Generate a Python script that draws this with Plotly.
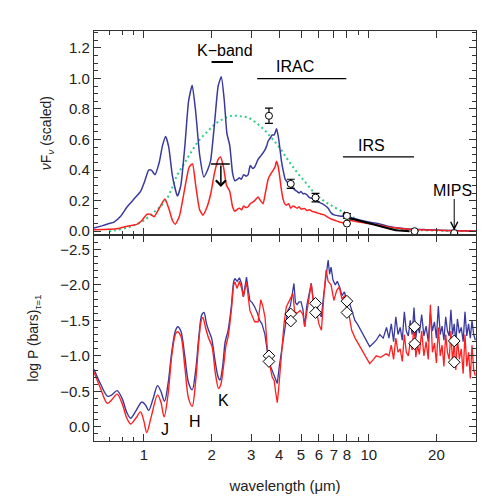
import numpy as np
import plotly.graph_objects as go
from plotly.subplots import make_subplots

# ---- top panel: nu F_nu (scaled) ----
wl_blue_top = [0.60, 0.65, 0.70, 0.736, 0.79, 0.843, 0.903, 0.967, 1.01, 1.05, 1.08, 1.12, 1.17, 1.21,
               1.25, 1.29, 1.34, 1.41, 1.46, 1.52, 1.58, 1.64, 1.70, 1.77, 1.85, 1.92, 1.98, 2.06,
               2.14, 2.21, 2.28, 2.34, 2.41, 2.48, 2.54, 2.61, 2.66, 2.71, 2.78, 2.85, 2.91, 2.97,
               3.05, 3.11, 3.22, 3.30, 3.38, 3.45, 3.52, 3.57, 3.65, 3.72, 3.80, 3.89, 3.96, 4.02,
               4.09, 4.16, 4.25, 4.35, 4.45, 4.55, 4.69, 4.80, 4.90, 5.0, 5.1, 5.19, 5.3, 5.45,
               5.6, 5.76, 5.9, 6.0, 6.2, 6.37, 6.6, 6.8, 7.06, 7.4, 7.68, 8.0, 8.5, 9.0, 10.0,
               11.0, 12.0, 13.0, 15.0, 18.0, 22.0, 26.0, 30.0]
fnu_blue = [0.02, 0.035, 0.05, 0.06, 0.10, 0.16, 0.21, 0.26, 0.33, 0.40, 0.40, 0.37, 0.45, 0.56,
            0.62, 0.55, 0.36, 0.23, 0.30, 0.55, 0.85, 0.955, 0.78, 0.50, 0.355, 0.40, 0.46, 0.70,
            0.95, 1.01, 0.85, 0.64, 0.56, 0.38, 0.33, 0.34, 0.35, 0.34, 0.37, 0.36, 0.37, 0.43,
            0.41, 0.42, 0.47, 0.49, 0.51, 0.53, 0.56, 0.59, 0.61, 0.63, 0.63, 0.67, 0.62, 0.55,
            0.46, 0.40, 0.34, 0.32, 0.30, 0.29, 0.27, 0.26, 0.25, 0.26, 0.245, 0.246, 0.24, 0.22,
            0.215, 0.20, 0.20, 0.19, 0.18, 0.17, 0.15, 0.12, 0.105, 0.10, 0.098, 0.10, 0.085, 0.075, 0.06,
            0.05, 0.035, 0.025, 0.015, 0.01, 0.005, 0.003, 0.002]

wl_red_top = [0.60, 0.70, 0.78, 0.843, 0.93, 0.98, 1.03, 1.07, 1.11, 1.17, 1.24, 1.29, 1.34, 1.38,
              1.44, 1.52, 1.59, 1.645, 1.70, 1.77, 1.83, 1.90, 1.98, 2.06, 2.14, 2.19, 2.26, 2.33,
              2.41, 2.48, 2.54, 2.61, 2.66, 2.72, 2.78, 2.85, 2.91, 2.97, 3.05, 3.11, 3.22, 3.30,
              3.39, 3.47, 3.57, 3.65, 3.76, 3.83, 3.89, 3.96, 4.02, 4.09, 4.16, 4.23, 4.30, 4.40,
              4.50, 4.6, 4.69, 4.8, 4.9, 5.0, 5.19, 5.3, 5.45, 5.6, 5.76, 5.9, 6.05, 6.2, 6.37,
              6.6, 6.8, 7.06, 7.4, 7.68, 8.0, 8.3, 9.0, 10.0, 11.0, 12.0, 13.0, 15.0, 18.0, 22.0,
              26.0, 30.0]
fnu_red = [0.01, 0.012, 0.02, 0.033, 0.045, 0.07, 0.11, 0.11, 0.095, 0.15, 0.21, 0.15, 0.07, 0.046,
           0.10, 0.28, 0.42, 0.44, 0.30, 0.14, 0.105, 0.15, 0.24, 0.38, 0.47, 0.485, 0.42, 0.30,
           0.26, 0.16, 0.13, 0.145, 0.15, 0.14, 0.165, 0.155, 0.16, 0.18, 0.19, 0.20, 0.224, 0.20,
           0.18, 0.25, 0.34, 0.37, 0.40, 0.42, 0.457, 0.42, 0.355, 0.27, 0.21, 0.18, 0.17, 0.18,
           0.15, 0.165, 0.16, 0.15, 0.16, 0.145, 0.148, 0.135, 0.14, 0.13, 0.126, 0.12, 0.115, 0.11, 0.105,
           0.09, 0.08, 0.072, 0.06, 0.055, 0.065, 0.07, 0.06, 0.05, 0.04, 0.03, 0.022, 0.013, 0.008, 0.004,
           0.002, 0.001]

wl_bb = [0.70, 0.74, 0.85, 0.93, 1.0, 1.12, 1.25, 1.33, 1.41, 1.51, 1.61, 1.75, 1.91, 2.07, 2.27,
         2.45, 2.6, 2.75, 2.91, 3.15, 3.45, 3.75, 4.09, 4.45, 4.85, 5.3, 5.76, 6.3, 6.8, 7.7,
         8.5, 9.4, 11.0, 13.2, 16.0, 20.0, 25.0, 30.0]
fnu_bb = [0.0, 0.005, 0.025, 0.045, 0.07, 0.13, 0.20, 0.28, 0.37, 0.44, 0.51, 0.59, 0.65, 0.70, 0.737,
          0.755, 0.755, 0.75, 0.743, 0.71, 0.66, 0.60, 0.53, 0.45, 0.377, 0.31, 0.246, 0.20, 0.17, 0.125,
          0.09, 0.065, 0.04, 0.015, 0.008, 0.004, 0.002, 0.001]

wl_irs = [7.7, 7.8, 7.95, 8.2, 8.6, 9.0, 9.4, 10.1, 10.8, 11.6, 12.4, 13.2, 14.2, 15.2]
fnu_irs = [0.10, 0.12, 0.11, 0.083, 0.078, 0.07, 0.06, 0.05, 0.04, 0.028, 0.016, 0.007, 0.003, 0.0]

wl_phot = [3.6, 4.5, 5.8, 8.0, 8.0, 16.0, 24.0]
fnu_phot = [0.755, 0.31, 0.22, 0.10, 0.05, 0.0, -0.012]
err_phot = [0.05, 0.03, 0.028, 0.015, 0.0, 0.0, 0.0]

# ---- bottom panel: log P (bars) at tau=1 ----
wl_noise = [12.3, 12.6, 12.9, 13.2, 13.5, 13.8, 14.1, 14.4, 14.7, 15.0, 15.3, 15.6, 15.9, 16.2, 16.5,
            16.8, 17.2, 17.6, 18.0, 18.4, 18.8, 19.2, 19.6, 20.0, 20.4, 20.8, 21.2, 21.6, 22.0, 22.4,
            22.8, 23.2, 23.6, 24.0, 24.4, 24.8, 25.3, 25.8, 26.3, 26.8, 27.3, 27.8, 28.3, 28.8, 29.3, 29.8]

wl_blue_bot = [0.60, 0.64, 0.69, 0.72, 0.76, 0.80, 0.84, 0.873, 0.92, 0.98, 1.02, 1.05, 1.10, 1.15,
               1.19, 1.235, 1.28, 1.33, 1.38, 1.415, 1.46, 1.52, 1.58, 1.64, 1.70, 1.76, 1.81, 1.85,
               1.90, 1.94, 2.00, 2.08, 2.14, 2.18, 2.24, 2.30, 2.37, 2.45, 2.51, 2.54, 2.60, 2.66,
               2.72, 2.77, 2.86, 2.96, 3.03, 3.11, 3.20, 3.27, 3.35, 3.45, 3.57, 3.66, 3.76, 3.85,
               3.92, 4.0, 4.08, 4.16, 4.27, 4.37, 4.48, 4.56, 4.65, 4.72, 4.80, 4.90, 5.0, 5.1,
               5.19, 5.30, 5.42, 5.55, 5.7, 5.85, 6.0, 6.16, 6.3, 6.45, 6.6, 6.7, 6.8, 6.93, 7.1,
               7.25, 7.42, 7.6, 7.8, 7.95, 8.2, 8.45, 8.68, 8.9, 9.15, 9.4, 9.7, 10.1, 10.5, 10.8,
               11.2, 11.6, 12.0] + wl_noise
logp_blue = [-0.81, -0.61, -0.43, -0.45, -0.51, -0.40, -0.20, -0.12, -0.22, -0.35, -0.30, -0.23, -0.40, -0.58,
             -0.50, -0.36, -0.60, -1.05, -1.35, -1.41, -1.35, -1.00, -0.62, -0.52, -0.80, -1.30, -1.58, -1.61,
             -1.45, -1.36, -1.25, -0.90, -0.70, -0.66, -0.85, -1.20, -1.36, -1.70, -2.05, -2.09, -2.05, -2.10,
             -2.02, -1.83, -2.11, -1.78, -1.75, -1.69, -1.60, -1.50, -1.45, -1.31, -0.99, -0.85, -0.75, -0.65,
             -0.61, -0.85, -1.05, -1.22, -1.45, -1.64, -1.70, -1.85, -2.02, -1.75, -1.72, -1.76, -1.76, -1.65,
             -1.41, -1.70, -1.85, -2.02, -1.72, -1.75, -1.60, -1.55, -1.85, -2.10, -2.35, -2.15, -2.25, -2.07, -2.00,
             -2.05, -1.97, -1.85, -1.90, -1.81, -1.75, -1.62, -1.50, -1.45, -1.38, -1.31, -1.22, -1.13, -1.18, -1.22,
             -1.30, -1.25, -1.40,
             -1.25, -1.45, -1.20, -1.55, -1.30, -1.40, -1.22, -1.62, -1.35, -1.28, -1.50, -1.30, -1.68, -1.25, -1.45,
             -1.32, -1.58, -1.28, -1.42, -1.20, -1.60, -1.35, -1.48, -1.25, -1.70, -1.30, -1.42, -1.22, -1.55, -1.35,
             -1.28, -1.65, -1.30, -1.45, -1.18, -1.52, -1.32, -1.40, -1.20, -1.62, -1.28, -1.45, -1.25, -1.50, -1.30,
             -1.22]

wl_red_bot = [0.60, 0.64, 0.687, 0.72, 0.76, 0.80, 0.84, 0.873, 0.92, 0.966, 1.00, 1.03, 1.08, 1.15,
              1.19, 1.23, 1.28, 1.33, 1.38, 1.41, 1.46, 1.52, 1.58, 1.64, 1.70, 1.76, 1.80, 1.83,
              1.88, 1.94, 2.01, 2.08, 2.15, 2.20, 2.26, 2.32, 2.37, 2.45, 2.51, 2.54, 2.60, 2.66,
              2.72, 2.77, 2.86, 2.96, 3.03, 3.11, 3.22, 3.31, 3.38, 3.46, 3.57, 3.64, 3.72, 3.80,
              3.85, 3.92, 3.98, 4.09, 4.20, 4.30, 4.45, 4.60, 4.68, 4.80, 4.95, 5.10, 5.19, 5.32,
              5.42, 5.55, 5.7, 5.85, 6.0, 6.16, 6.32, 6.46, 6.6, 6.8, 7.0, 7.2, 7.4, 7.6, 7.8,
              7.95, 8.2, 8.4, 8.7, 9.15, 9.6, 10.1, 10.5, 10.8, 11.3, 11.95] + wl_noise
logp_red = [-0.77, -0.55, -0.33, -0.38, -0.46, -0.33, -0.12, -0.04, -0.12, -0.21, -0.08, 0.08, -0.15, -0.45,
            -0.35, -0.14, -0.45, -1.00, -1.30, -1.34, -1.28, -0.85, -0.40, -0.29, -0.65, -1.25, -1.50, -1.54,
            -1.40, -1.25, -1.13, -0.75, -0.54, -0.60, -0.85, -1.15, -1.27, -1.65, -2.00, -2.04, -1.95, -2.05,
            -1.95, -1.83, -2.04, -1.64, -1.55, -1.48, -1.48, -1.79, -1.70, -1.54, -0.94, -0.85, -0.70, -0.65,
            -0.50, -0.34, -0.55, -1.08, -1.45, -1.69, -1.78, -1.88, -1.62, -1.60, -1.64, -1.58, -1.41, -1.65,
            -1.80, -2.02, -1.69, -1.65, -1.45, -1.36, -1.85, -2.21, -2.05, -2.00, -1.78, -1.92, -1.97, -1.80, -1.85,
            -1.69, -1.55, -1.36, -1.25, -1.13, -1.00, -0.89, -0.95, -1.00, -0.98, -1.03,
            -1.00, -1.15, -0.95, -1.25, -1.05, -1.10, -0.92, -1.30, -1.05, -1.00, -1.20, -1.08, -1.45, -0.98, -1.15,
            -1.02, -1.35, -1.00, -1.20, -0.95, -1.72, -1.05, -1.18, -0.90, -1.40, -1.00, -1.15, -0.85, -1.30, -1.05,
            -0.95, -1.35, -0.90, -1.20, -0.80, -1.25, -0.95, -1.10, -0.75, -1.30, -0.85, -1.05, -0.68, -1.15, -0.80,
            -0.72]

wl_diam = [3.6, 3.6, 4.5, 4.5, 5.8, 5.8, 8.0, 8.0, 16.0, 16.0, 24.0, 24.0]
logp_diam = [-1.00, -0.92, -1.59, -1.49, -1.74, -1.61, -1.77, -1.61, -1.41, -1.17, -1.21, -0.91]

BLUE = "#3a3a9e"
RED = "#ff1f1f"
GREEN = "#2ecc82"
FONT = "Liberation Sans"

fig = make_subplots(rows=2, cols=1, shared_xaxes=True, vertical_spacing=0, row_heights=[0.498, 0.502])

fig.add_trace(go.Scatter(x=wl_bb, y=fnu_bb, mode="lines", line=dict(color=GREEN, width=2, dash="2px,3px", shape="spline")), 1, 1)
fig.add_trace(go.Scatter(x=wl_blue_top, y=fnu_blue, mode="lines", line=dict(color=BLUE, width=1.5, shape="spline", smoothing=0.5)), 1, 1)
fig.add_trace(go.Scatter(x=wl_red_top, y=fnu_red, mode="lines", line=dict(color=RED, width=1.5, shape="spline", smoothing=0.5)), 1, 1)
fig.add_trace(go.Scatter(x=wl_irs, y=fnu_irs, mode="lines", line=dict(color="black", width=2)), 1, 1)
fig.add_trace(go.Scatter(x=wl_phot, y=fnu_phot, mode="markers",
                         marker=dict(symbol="circle", size=7, color="white", line=dict(color="black", width=1)),
                         error_y=dict(type="data", array=err_phot, color="black", thickness=1.2, width=4)), 1, 1)

# band bars and upper limit bar
for x0, x1, yv, w in [(2.0, 2.49, 1.107, 2), (3.19, 7.95, 0.998, 1.2), (7.68, 15.9, 0.486, 1.2), (1.99, 2.41, 0.44, 1.5)]:
    fig.add_trace(go.Scatter(x=[x0, x1], y=[yv, yv], mode="lines", line=dict(color="black", width=w)), 1, 1)

# smooth near-IR part drawn as spline, noisy mid-IR part as plain lines
for wl, lp, col in [(wl_blue_bot, logp_blue, BLUE), (wl_red_bot, logp_red, RED)]:
    k = wl.index(2.54)
    fig.add_trace(go.Scatter(x=wl[:k + 1], y=lp[:k + 1], mode="lines",
                             line=dict(color=col, width=1.4, shape="spline", smoothing=0.9)), 2, 1)
    fig.add_trace(go.Scatter(x=wl[k:], y=lp[k:], mode="lines", line=dict(color=col, width=1.3)), 2, 1)

fig.add_trace(go.Scatter(x=wl_diam, y=logp_diam, mode="markers",
                         marker=dict(symbol="diamond", size=9, color="white", line=dict(color="black", width=1))), 2, 1)

lg = np.log10
ann = [
    dict(x=lg(2.29), y=1.18, text="K\u2212band", xref="x", yref="y"),
    dict(x=lg(4.69), y=1.08, text="IRAC", xref="x", yref="y"),
    dict(x=lg(10.3), y=0.56, text="IRS", xref="x", yref="y"),
    dict(x=lg(23.6), y=0.265, text="MIPS", xref="x", yref="y"),
    dict(x=lg(1.24), y=0.04, text="J", xref="x2", yref="y2"),
    dict(x=lg(1.68), y=-0.07, text="H", xref="x2", yref="y2"),
    dict(x=lg(2.25), y=-0.37, text="K", xref="x2", yref="y2"),
]
for a in ann:
    fig.add_annotation(**a, showarrow=False, font=dict(size=16, color="black", family=FONT))

fig.add_annotation(x=lg(2.2), y=0.29, xref="x", yref="y", ax=0, ay=-23, text="", showarrow=True,
                   arrowhead=4, arrowsize=1.3, arrowwidth=1.5, arrowcolor="black")
fig.add_annotation(x=lg(24.0), y=0.005, xref="x", yref="y", ax=0, ay=-33, text="", showarrow=True,
                   arrowhead=5, arrowsize=1.4, arrowwidth=1, arrowcolor="black")

axis_common = dict(showline=True, linecolor="#333", linewidth=1.3, mirror="ticks", ticks="inside",
                   tickcolor="#333", showgrid=False, zeroline=False,
                   tickfont=dict(size=15, color="#222", family=FONT))

xt = [1, 2, 3, 4, 5, 6, 7, 8, 10, 20]
for r in (1, 2):
    fig.update_xaxes(type="log", range=[lg(0.6), lg(30)], tickvals=xt, ticktext=[str(v) for v in xt],
                     ticklen=7, minor=dict(tickvals=[0.6, 0.7, 0.8, 0.9, 9, 30], ticks="inside", ticklen=4, tickcolor="#333"),
                     row=r, col=1, **axis_common)
fig.update_xaxes(showticklabels=False, row=1, col=1)
fig.update_xaxes(title=dict(text="wavelength (\u03bcm)", font=dict(size=15, family=FONT, color="#222"), standoff=18), row=2, col=1)

fig.update_yaxes(range=[-0.026, 1.31], tickvals=[0, 0.2, 0.4, 0.6, 0.8, 1.0, 1.2], tickformat=".1f", ticklen=7,
                 minor=dict(dtick=0.05, ticks="inside", ticklen=4, tickcolor="#333"),
                 title=dict(text="<i>\u03bd</i>F<sub><i>\u03bd</i></sub> (scaled)", font=dict(size=14, family=FONT, color="#222"), standoff=14),
                 row=1, col=1, **axis_common)
fig.update_yaxes(range=[0.2, -2.7], tickvals=[0, -0.5, -1.0, -1.5, -2.0, -2.5], tickformat=".1f", ticklen=7,
                 minor=dict(dtick=0.1, ticks="inside", ticklen=4, tickcolor="#333"),
                 title=dict(text="log P (bars)<sub>\u03c4=1</sub>", font=dict(size=14, family=FONT, color="#222"), standoff=18),
                 row=2, col=1, **axis_common)

fig.update_layout(width=504, height=504, margin=dict(l=86, r=36, t=23, b=71, autoexpand=False),
                  paper_bgcolor="white", plot_bgcolor="white", showlegend=False,
                  font=dict(family=FONT, size=14, color="#222"))

fig.write_html("out.html")
